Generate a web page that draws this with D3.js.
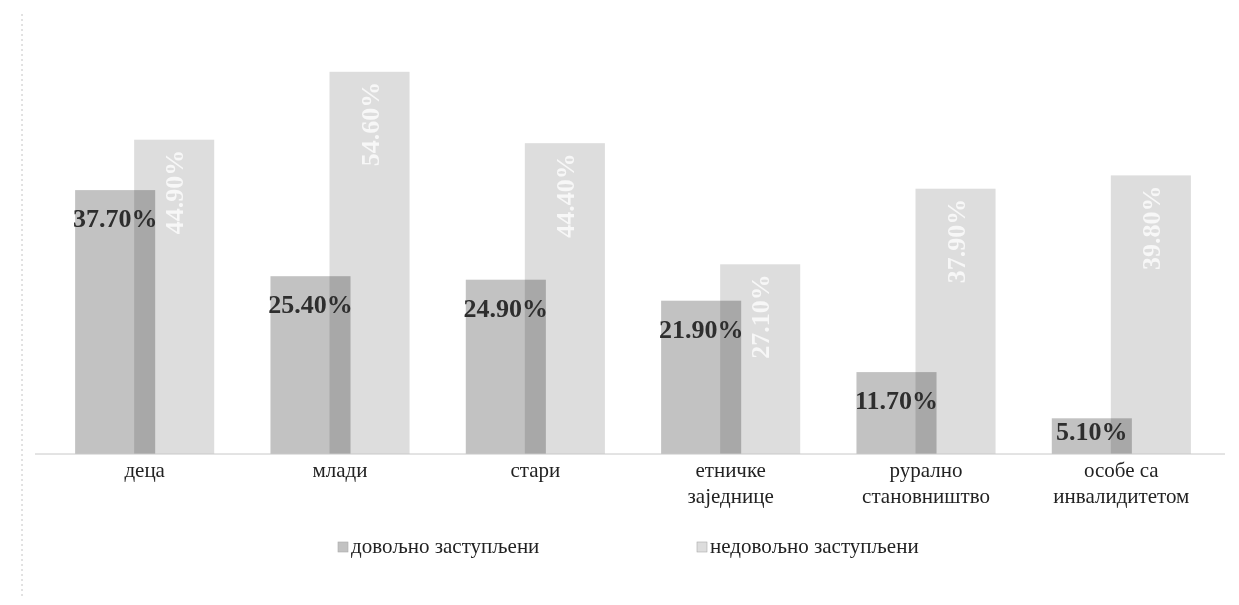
<!DOCTYPE html>
<html>
<head>
<meta charset="utf-8">
<script src="https://cdn.jsdelivr.net/npm/d3@7/dist/d3.min.js"></script>
<style>
  html, body { margin: 0; padding: 0; background: #ffffff; }
  svg { display: block; }
  text { font-family: "Liberation Serif", "Times New Roman", serif; }
</style>
</head>
<body>
<svg id="chart" width="1239" height="605"></svg>
<script>
// ---- data ----
const categories = [
  ["деца"],
  ["млади"],
  ["стари"],
  ["етничке", "заједнице"],
  ["рурално", "становништво"],
  ["особе са", "инвалидитетом"]
];
const seriesNames = ["довољно заступљени", "недовољно заступљени"];
const enough    = [37.7, 25.4, 24.9, 21.9, 11.7, 5.1];
const notEnough = [44.9, 54.6, 44.4, 27.1, 37.9, 39.8];

// ---- layout ----
const svg = d3.select("#chart");
const catKeys = categories.map(c => c.join(" "));
const colors = ["#c2c2c2", "#dddddd"];

const x0 = d3.scaleBand().domain(catKeys).range([47, 1219]).padding(0);
const groupW = x0.bandwidth() * 0.712;
const x1 = d3.scaleBand().domain(seriesNames).range([0, groupW * 0.849]).padding(0);
const barW = x1.bandwidth() * 1.356;
const y = d3.scaleLinear().domain([0, 60]).range([454, 34]);

// faint frame line at left (scan border)
svg.append("line")
  .attr("x1", 22).attr("x2", 22).attr("y1", 14).attr("y2", 596)
  .attr("stroke", "#c4c4c4").attr("stroke-width", 1).attr("stroke-dasharray", "2,3");

const rows = catKeys.map((k, i) => ({ key: k, lines: categories[i], vals: [enough[i], notEnough[i]] }));

const groups = svg.append("g").selectAll("g").data(rows).join("g")
  .attr("transform", d => `translate(${x0(d.key) + (x0.bandwidth() - groupW) / 2},0)`);

groups.selectAll("rect").data(d => d.vals.map((v, j) => ({ s: seriesNames[j], v, j })))
  .join("rect")
  .attr("x", d => x1(d.s))
  .attr("y", d => y(d.v))
  .attr("width", barW)
  .attr("height", d => y(0) - y(d.v))
  .attr("fill", d => colors[d.j])
  .style("mix-blend-mode", "multiply");

// baseline
svg.append("g")
  .attr("transform", `translate(0,${y(0)})`)
  .call(d3.axisBottom(x0).tickSize(0).tickFormat(""))
  .call(g => g.select(".domain").attr("stroke", "#c8c8c8").attr("d", `M35,0H1225`));

// value labels: first series (horizontal, bold, dark)
groups.append("text")
  .attr("x", x1(seriesNames[0]) + barW / 2)
  .attr("y", d => Math.min(y(d.vals[0]) + 37, y(0) - 14))
  .attr("text-anchor", "middle")
  .attr("font-size", 26)
  .attr("font-weight", "bold")
  .attr("fill", "#2e2e2e")
  .text(d => d.vals[0].toFixed(2) + "%");

// value labels: second series (rotated, white)
groups.append("text")
  .attr("transform", d => `translate(${x1(seriesNames[1]) + barW / 2 + 9},${y(d.vals[1]) + 10}) rotate(-90)`)
  .attr("text-anchor", "end")
  .attr("font-size", 26)
  .attr("font-weight", "bold")
  .attr("fill", "#ffffff")
  .attr("fill-opacity", 0.75)
  .text(d => d.vals[1].toFixed(2) + "%");

// category labels
const catLabels = svg.append("g").selectAll("text").data(rows).join("text")
  .attr("x", d => x0(d.key) + x0.bandwidth() / 2)
  .attr("y", 477)
  .attr("text-anchor", "middle")
  .attr("font-size", 21)
  .attr("fill", "#222222");
catLabels.selectAll("tspan").data(d => d.lines).join("tspan")
  .attr("x", function () { return d3.select(this.parentNode).attr("x"); })
  .attr("dy", (d, i) => i === 0 ? 0 : 26)
  .text(d => d);

// legend
const legendX = [338, 697];
const legend = svg.append("g").selectAll("g").data(seriesNames).join("g")
  .attr("transform", (d, i) => `translate(${legendX[i]},548)`);
legend.append("rect")
  .attr("x", 0).attr("y", -6).attr("width", 10).attr("height", 10)
  .attr("fill", (d, i) => colors[i]).attr("stroke", "#aaaaaa").attr("stroke-width", 0.6);
legend.append("text")
  .attr("x", 13).attr("y", 0)
  .attr("dominant-baseline", "middle")
  .attr("font-size", 21)
  .attr("fill", "#222222")
  .text(d => d);
</script>
</body>
</html>
